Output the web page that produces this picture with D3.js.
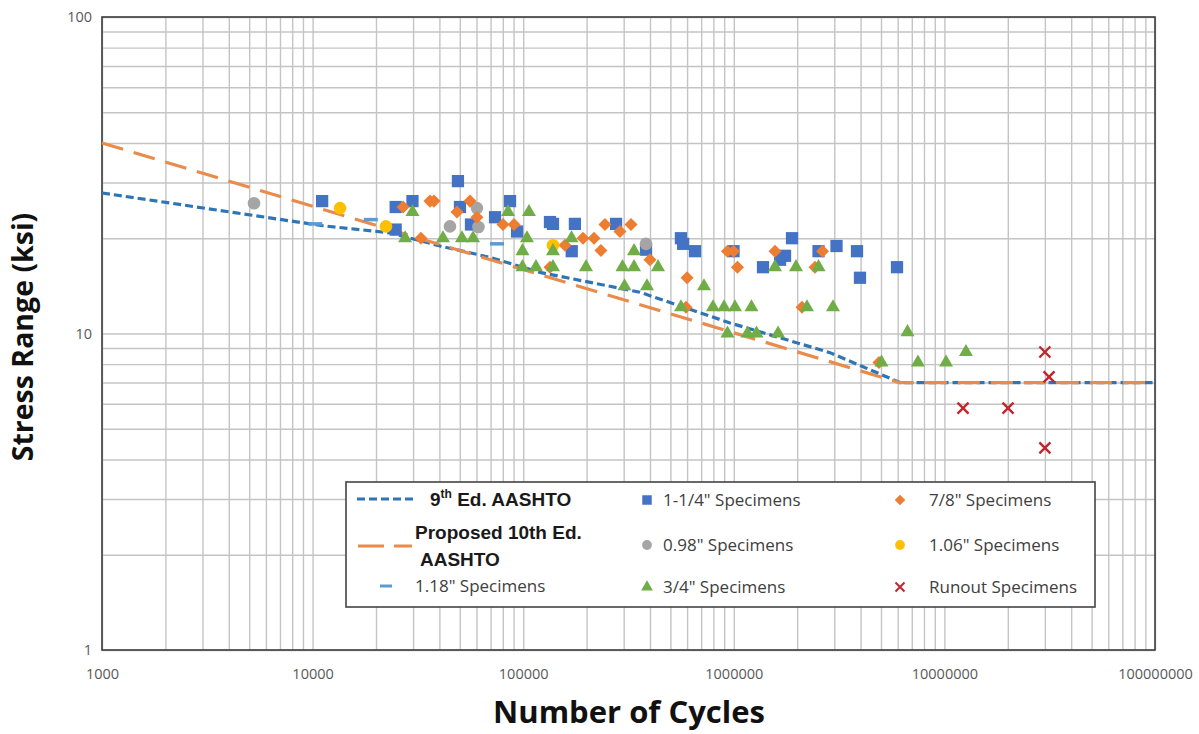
<!DOCTYPE html>
<html>
<head>
<meta charset="utf-8">
<script src="https://cdn.jsdelivr.net/npm/d3@7"></script>
<style>
  body { margin: 0; background: #fff; }
  svg { display: block; }
</style>
</head>
<body>
<svg id="chart" width="1199" height="734"></svg>
<script>
// ---- Data: [number of cycles, stress range (ksi)] ----
const spec1_25 = [
  [11100, 26.2], [24800, 25.1], [29800, 26.2], [24800, 21.3], [49000, 30.3],
  [50100, 25.1], [56500, 22.1], [73500, 23.3], [86600, 26.2], [93500, 21.0],
  [134000, 22.5], [138500, 22.2], [176000, 22.2], [276000, 22.2], [170000, 18.2],
  [383000, 18.4], [561000, 20.0], [575000, 19.2], [654000, 18.2], [997000, 18.2],
  [1376000, 16.2], [1658000, 17.1], [1751000, 17.6], [1890000, 20.0], [2525000, 18.2],
  [3074000, 18.9], [3846000, 18.2], [3973000, 15.0], [5956000, 16.2]
];
const spec0_98 = [
  [5270, 25.8], [44900, 21.8], [60300, 24.9], [61300, 21.7], [383000, 19.2]
];
const spec1_06 = [
  [13500, 24.9], [22300, 21.8], [138500, 19.0]
];
const spec7_8 = [
  [26900, 25.1], [36100, 26.2], [37700, 26.2], [32700, 20.0], [48500, 24.2],
  [55900, 26.2], [60300, 23.3], [80200, 22.1], [90400, 22.1], [134100, 16.2],
  [157900, 19.0], [192300, 20.0], [216900, 20.0], [234000, 18.3], [244500, 22.1],
  [288100, 21.0], [325100, 22.1], [399900, 17.1], [593000, 12.1], [600000, 15.0],
  [933000, 18.2], [997000, 18.2], [1041000, 16.2], [1569000, 18.2], [2108000, 12.1],
  [2430000, 16.2], [2638000, 18.2], [4890000, 8.1]
];
const spec3_4 = [
  [27500, 20.0], [29800, 24.2], [41600, 20.0], [51200, 20.0], [57800, 20.0],
  [84700, 24.2], [106500, 24.2], [104200, 20.0], [99200, 18.2], [99200, 16.2],
  [115000, 16.2], [138500, 18.2], [138500, 16.2], [169600, 20.0], [198700, 16.2],
  [302700, 14.1], [296100, 16.2], [335900, 18.2], [335900, 16.2], [387100, 14.1],
  [436700, 16.2], [561500, 12.1], [722000, 14.1], [796400, 12.1], [898400, 12.1],
  [1013000, 12.1], [1213000, 12.1], [933400, 10.0], [1162000, 10.0], [1282000, 10.0],
  [1622000, 10.0], [1569000, 16.2], [1974000, 16.2], [2226000, 12.1], [2525000, 16.2],
  [2958000, 12.1], [5027000, 8.1], [6680000, 10.1], [7490000, 8.1], [10180000, 8.1],
  [12660000, 8.74]
];
const spec1_18 = [
  [10300, 22.2], [18900, 22.9], [75100, 19.2]
];
const runout = [
  [30000000, 8.74], [31400000, 7.29], [12260000, 5.81], [20050000, 5.81], [30000000, 4.35]
];

// Design curves
const ninthEd = [
  [1000, 27.8], [11200, 21.9], [23300, 20.8], [40300, 18.9], [69600, 17.4],
  [120000, 15.6], [358000, 13.5], [959000, 10.8], [2860000, 8.7], [6150000, 7.0],
  [100000000, 7.0]
];
const proposed10th = [
  [1000, 40], [6100000, 7], [100000000, 7]
];

// Axis ticks and labels
const xTickValues = [1e3, 1e4, 1e5, 1e6, 1e7, 1e8];
const yTickValues = [1, 10, 100];
const xTitle = "Number of Cycles";
const yTitle = "Stress Range (ksi)";

// ---- Layout ----
const svg = d3.select("#chart");
const plotLeft = 102, plotRight = 1155, plotTop = 17, plotBottom = 650;
const x = d3.scaleLog().domain([1e3, 1e8]).range([plotLeft, plotRight]);
const y = d3.scaleLog().domain([1, 100]).range([plotBottom, plotTop]);

const C = {
  blueSq: "#4472c4", gray: "#a5a5a5", yellow: "#ffc000", orange: "#ed7d31",
  green: "#70ad47", red: "#c0262d", dash118: "#5b9bd5",
  line9: "#2e75b6", line10: "#e98c4b", grid: "#c4c4c4", text: "#595959"
};

// Gridlines (major and minor)
const gx = svg.append("g").attr("transform", `translate(0,${plotBottom})`)
  .call(d3.axisBottom(x).tickValues(x.ticks()).tickSize(-(plotBottom - plotTop)).tickFormat(""));
gx.select(".domain").remove();
gx.selectAll("line").attr("stroke", C.grid).attr("stroke-width", 1.4);

const gy = svg.append("g").attr("transform", `translate(${plotLeft},0)`)
  .call(d3.axisLeft(y).tickValues(y.ticks()).tickSize(-(plotRight - plotLeft)).tickFormat(""));
gy.select(".domain").remove();
gy.selectAll("line").attr("stroke", C.grid).attr("stroke-width", 1.4);

// Tick labels
const ax = svg.append("g").attr("transform", `translate(0,${plotBottom})`)
  .call(d3.axisBottom(x).tickValues(xTickValues).tickFormat(d3.format("d")).tickSize(0).tickPadding(19));
ax.select(".domain").remove();
ax.selectAll("text").attr("font-family", "'Open Sans', sans-serif").attr("font-size", 14.5).attr("fill", C.text);

const ay = svg.append("g").attr("transform", `translate(${plotLeft},0)`)
  .call(d3.axisLeft(y).tickValues(yTickValues).tickFormat(d3.format("d")).tickSize(0).tickPadding(10));
ay.select(".domain").remove();
ay.selectAll("text").attr("font-family", "'Open Sans', sans-serif").attr("font-size", 14.5).attr("fill", C.text);

// Plot frame
svg.append("rect").attr("x", plotLeft).attr("y", plotTop)
  .attr("width", plotRight - plotLeft).attr("height", plotBottom - plotTop)
  .attr("fill", "none").attr("stroke", "#3c3c3c").attr("stroke-width", 1.6);

// Design curves
const line = d3.line().x(d => x(d[0])).y(d => y(d[1]));
svg.append("path").datum(ninthEd).attr("d", line).attr("fill", "none")
  .attr("stroke", C.line9).attr("stroke-width", 3.2).attr("stroke-dasharray", "8,4");
svg.append("path").datum(proposed10th).attr("d", line).attr("fill", "none")
  .attr("stroke", C.line10).attr("stroke-width", 3.2).attr("stroke-dasharray", "22,11");

// Markers
const sym = (type, size) => d3.symbol().type(type).size(size)();
const pts = svg.append("g");

pts.selectAll("path.s118").data(spec1_18).join("path").attr("class", "s118")
  .attr("d", "M-7,0H7").attr("stroke", C.dash118).attr("stroke-width", 3.5)
  .attr("transform", d => `translate(${x(d[0])},${y(d[1])})`);

pts.selectAll("path.s125").data(spec1_25).join("path").attr("class", "s125")
  .attr("d", sym(d3.symbolSquare, 150)).attr("fill", C.blueSq)
  .attr("transform", d => `translate(${x(d[0])},${y(d[1])})`);

pts.selectAll("path.s098").data(spec0_98).join("path").attr("class", "s098")
  .attr("d", sym(d3.symbolCircle, 125)).attr("fill", C.gray)
  .attr("transform", d => `translate(${x(d[0])},${y(d[1])})`);

pts.selectAll("path.s078").data(spec7_8).join("path").attr("class", "s078")
  .attr("d", sym(d3.symbolSquare, 85)).attr("fill", C.orange)
  .attr("transform", d => `translate(${x(d[0])},${y(d[1])}) rotate(45)`);

pts.selectAll("path.s106").data(spec1_06).join("path").attr("class", "s106")
  .attr("d", sym(d3.symbolCircle, 125)).attr("fill", C.yellow)
  .attr("transform", d => `translate(${x(d[0])},${y(d[1])})`);

pts.selectAll("path.s034").data(spec3_4).join("path").attr("class", "s034")
  .attr("d", sym(d3.symbolTriangle, 85)).attr("fill", C.green)
  .attr("transform", d => `translate(${x(d[0])},${y(d[1])})`);

pts.selectAll("path.run").data(runout).join("path").attr("class", "run")
  .attr("d", "M-5.5,-5.5L5.5,5.5M-5.5,5.5L5.5,-5.5").attr("stroke", C.red).attr("stroke-width", 2.4).attr("fill", "none")
  .attr("transform", d => `translate(${x(d[0])},${y(d[1])})`);

// Axis titles
svg.append("text").attr("x", 629).attr("y", 723).attr("text-anchor", "middle")
  .attr("font-family", "'Open Sans', sans-serif").attr("font-weight", 700).attr("font-size", 31)
  .attr("fill", "#111").text(xTitle);
svg.append("text").attr("transform", "translate(33,337) rotate(-90)").attr("text-anchor", "middle")
  .attr("font-family", "'Open Sans', sans-serif").attr("font-weight", 700).attr("font-size", 28.5)
  .attr("fill", "#111").text(yTitle);

// ---- Legend ----
const lg = svg.append("g");
lg.append("rect").attr("x", 346).attr("y", 482).attr("width", 749).attr("height", 125)
  .attr("fill", "#fff").attr("stroke", "#444").attr("stroke-width", 1.6);

const boldFont = "'Liberation Sans', Arial, sans-serif";
const lgFont = "'Open Sans', sans-serif";

// Curve entries
lg.append("line").attr("x1", 357).attr("x2", 413).attr("y1", 499).attr("y2", 499)
  .attr("stroke", C.line9).attr("stroke-width", 3.2).attr("stroke-dasharray", "8,4");
const t9 = lg.append("text").attr("x", 430).attr("y", 506).attr("font-family", boldFont)
  .attr("font-weight", 700).attr("font-size", 19).attr("fill", "#1a1a1a");
t9.append("tspan").text("9");
t9.append("tspan").attr("dy", -8).attr("font-size", 12).text("th");
t9.append("tspan").attr("dy", 8).text(" Ed. AASHTO");

lg.append("line").attr("x1", 358).attr("x2", 412).attr("y1", 546).attr("y2", 546)
  .attr("stroke", C.line10).attr("stroke-width", 3.2).attr("stroke-dasharray", "26,10");
lg.append("text").attr("x", 415).attr("y", 539).attr("font-family", boldFont)
  .attr("font-weight", 700).attr("font-size", 19).attr("fill", "#1a1a1a").text("Proposed 10th Ed.");
lg.append("text").attr("x", 420).attr("y", 566).attr("font-family", boldFont)
  .attr("font-weight", 700).attr("font-size", 19).attr("fill", "#1a1a1a").text("AASHTO");

// Specimen entries
const legendLabels = [
  "1.18\" Specimens", "1-1/4\" Specimens", "0.98\" Specimens", "3/4\" Specimens",
  "7/8\" Specimens", "1.06\" Specimens", "Runout Specimens"
];
const legendItems = [
  { mx: 386, tx: 415, y: 586, draw: g => g.append("path").attr("d", "M-6,0H6").attr("stroke", C.dash118).attr("stroke-width", 3) },
  { mx: 647, tx: 663, y: 500, draw: g => g.append("path").attr("d", sym(d3.symbolSquare, 90)).attr("fill", C.blueSq) },
  { mx: 647, tx: 663, y: 545, draw: g => g.append("path").attr("d", sym(d3.symbolCircle, 75)).attr("fill", C.gray) },
  { mx: 647, tx: 663, y: 587, draw: g => g.append("path").attr("d", sym(d3.symbolTriangle, 60)).attr("fill", C.green) },
  { mx: 900, tx: 929, y: 500, draw: g => g.append("path").attr("d", sym(d3.symbolSquare, 55)).attr("fill", C.orange).attr("transform", "rotate(45)") },
  { mx: 900, tx: 929, y: 545, draw: g => g.append("path").attr("d", sym(d3.symbolCircle, 75)).attr("fill", C.yellow) },
  { mx: 900, tx: 929, y: 587, draw: g => g.append("path").attr("d", "M-4.5,-4.5L4.5,4.5M-4.5,4.5L4.5,-4.5").attr("stroke", C.red).attr("stroke-width", 2) }
];
legendItems.forEach((it, i) => {
  const g = lg.append("g").attr("transform", `translate(${it.mx},${it.y})`);
  it.draw(g);
  lg.append("text").attr("x", it.tx).attr("y", it.y).attr("dy", "0.35em")
    .attr("font-family", lgFont).attr("font-size", 17).attr("fill", "#404040").text(legendLabels[i]);
});
</script>
</body>
</html>
